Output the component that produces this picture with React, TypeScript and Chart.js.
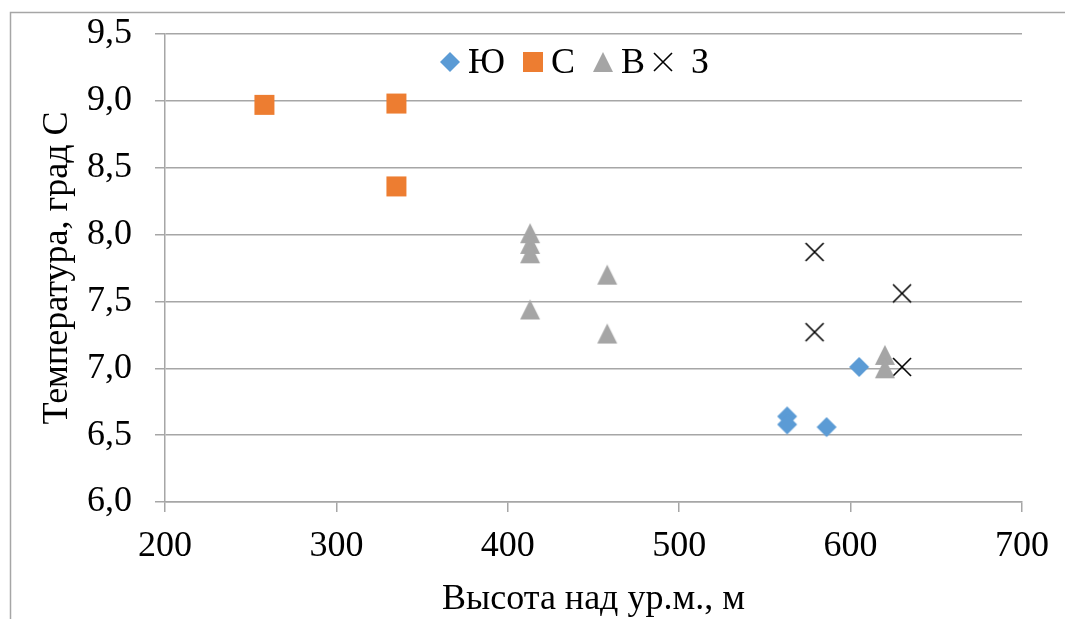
import React, { useEffect, useRef } from "react";
import { Chart, registerables } from "chart.js";

Chart.register(...registerables);

// Series: temperature vs. altitude for four slope aspects
const seriesNames = ["Ю", "С", "В", "З"];
const seriesColors = ["#5B9BD5", "#ED7D31", "#A5A5A5", "#000000"];

const southX = [563, 563, 586, 605];
const southY = [6.64, 6.58, 6.56, 7.01];

const northX = [258, 335, 335];
const northY = [8.97, 8.98, 8.36];

const eastX = [413, 413, 413, 413, 458, 458, 620, 620];
const eastY = [8.01, 7.93, 7.86, 7.44, 7.7, 7.26, 7.1, 7.0];

const westX = [579, 579, 630, 630];
const westY = [7.87, 7.27, 7.56, 7.01];

const xTicks = [200, 300, 400, 500, 600, 700];
const yTicks = [6.0, 6.5, 7.0, 7.5, 8.0, 8.5, 9.0, 9.5];

const xTitle = "Высота над ур.м., м";
const yTitle = "Температура, град С";

const FONT_FAMILY = "'Liberation Serif', 'Times New Roman', serif";
const FONT_SIZE = 36;
const GRID = "#a6a6a6";

type MarkerKind = "diamond" | "square" | "triangle" | "cross";
const markerKinds: MarkerKind[] = ["diamond", "square", "triangle", "cross"];

function makeMarker(kind: MarkerKind, color: string): HTMLCanvasElement {
  const c = document.createElement("canvas");
  c.width = 22;
  c.height = 22;
  const g = c.getContext("2d")!;
  g.fillStyle = color;
  g.strokeStyle = color;
  g.beginPath();
  if (kind === "diamond") {
    g.moveTo(11, 1);
    g.lineTo(21, 11);
    g.lineTo(11, 21);
    g.lineTo(1, 11);
    g.closePath();
    g.fill();
  } else if (kind === "square") {
    g.rect(1, 1, 20, 20);
    g.fill();
  } else if (kind === "triangle") {
    g.moveTo(11, 1);
    g.lineTo(21, 21);
    g.lineTo(1, 21);
    g.closePath();
    g.fill();
  } else {
    g.lineWidth = 1.6;
    g.moveTo(2, 2);
    g.lineTo(20, 20);
    g.moveTo(20, 2);
    g.lineTo(2, 20);
    g.stroke();
  }
  return c;
}

const toPoints = (xs: number[], ys: number[]) => xs.map((x, i) => ({ x, y: ys[i] }));

export default function App() {
  const ref = useRef<HTMLCanvasElement>(null);

  useEffect(() => {
    const canvas = ref.current;
    if (!canvas) return;

    const markers = markerKinds.map((k, i) => makeMarker(k, seriesColors[i]));
    const seriesData = [
      toPoints(southX, southY),
      toPoints(northX, northY),
      toPoints(eastX, eastY),
      toPoints(westX, westY),
    ];

    const font = { family: FONT_FAMILY, size: FONT_SIZE };

    // White background and the outer chart frame
    const framePlugin = {
      id: "frame",
      beforeDraw(chart: any) {
        const { ctx, width, height } = chart;
        ctx.save();
        ctx.fillStyle = "#ffffff";
        ctx.fillRect(0, 0, width, height);
        ctx.strokeStyle = GRID;
        ctx.lineWidth = 1.5;
        ctx.strokeRect(10.5, 12.5, width + 20, height + 20);
        ctx.restore();
      },
    };

    // Legend placed inside the plot area at the top
    const legendPlugin = {
      id: "innerLegend",
      afterDraw(chart: any) {
        const { ctx } = chart;
        const markerCx = [450, 533, 603, 663];
        const textX = [468, 551, 621, 691];
        const cy = 62;
        ctx.save();
        ctx.font = `${FONT_SIZE}px ${FONT_FAMILY}`;
        ctx.fillStyle = "#000";
        ctx.textBaseline = "alphabetic";
        ctx.textAlign = "left";
        seriesNames.forEach((name, i) => {
          const m = markers[i];
          ctx.drawImage(m, markerCx[i] - m.width / 2, cy - m.height / 2);
          ctx.fillText(name, textX[i], 73);
        });
        ctx.restore();
      },
    };

    const chart = new Chart(canvas, {
      type: "scatter",
      data: {
        datasets: seriesNames.map((name, i) => ({
          label: name,
          data: seriesData[i],
          pointStyle: markers[i] as any,
          pointRadius: 11,
          backgroundColor: seriesColors[i],
          borderColor: seriesColors[i],
          showLine: false,
        })),
      },
      options: {
        responsive: false,
        animation: false,
        devicePixelRatio: 1,
        layout: { padding: { top: 34, right: 43, bottom: 0, left: 0 } },
        plugins: {
          legend: { display: false },
          tooltip: { enabled: false },
        },
        scales: {
          x: {
            type: "linear",
            min: xTicks[0],
            max: xTicks[xTicks.length - 1],
            afterFit: (s: any) => {
              s.height = 117;
              s.paddingLeft = 0;
              s.paddingRight = 0;
            },
            afterBuildTicks: (s: any) => {
              s.ticks = xTicks.map((v) => ({ value: v }));
            },
            grid: {
              drawOnChartArea: false,
              drawTicks: true,
              tickLength: 10,
              color: GRID,
              tickColor: GRID,
              lineWidth: 1.5,
            },
            border: { display: true, color: GRID, width: 1.5 },
            ticks: {
              font,
              color: "#000",
              padding: 13,
              maxRotation: 0,
              autoSkip: false,
              callback: (v: any) => String(v),
            },
            title: {
              display: true,
              text: xTitle,
              font: { ...font, lineHeight: 1.1 },
              color: "#000",
              padding: { top: 0, bottom: 0 },
            },
          },
          y: {
            type: "linear",
            min: yTicks[0],
            max: yTicks[yTicks.length - 1],
            afterFit: (s: any) => {
              s.width = 165;
              s.paddingTop = 0;
              s.paddingBottom = 0;
            },
            afterBuildTicks: (s: any) => {
              s.ticks = yTicks.map((v) => ({ value: v }));
            },
            grid: {
              drawOnChartArea: true,
              drawTicks: true,
              tickLength: 10,
              color: GRID,
              tickColor: GRID,
              lineWidth: 1.5,
            },
            border: { display: true, color: GRID, width: 1.5 },
            ticks: {
              font,
              color: "#000",
              padding: 23,
              autoSkip: false,
              callback: (v: any) => Number(v).toFixed(1).replace(".", ","),
            },
            title: {
              display: true,
              text: yTitle,
              font,
              color: "#000",
              padding: { top: 36, bottom: 0 },
            },
          },
        },
      },
      plugins: [framePlugin, legendPlugin],
    });

    return () => chart.destroy();
  }, []);

  return (
    <div style={{ position: "fixed", left: 0, top: 0, width: 1065, height: 619, overflow: "hidden", background: "#fff" }}>
      <canvas ref={ref} width={1065} height={619} style={{ display: "block", width: 1065, height: 619 }} />
    </div>
  );
}
